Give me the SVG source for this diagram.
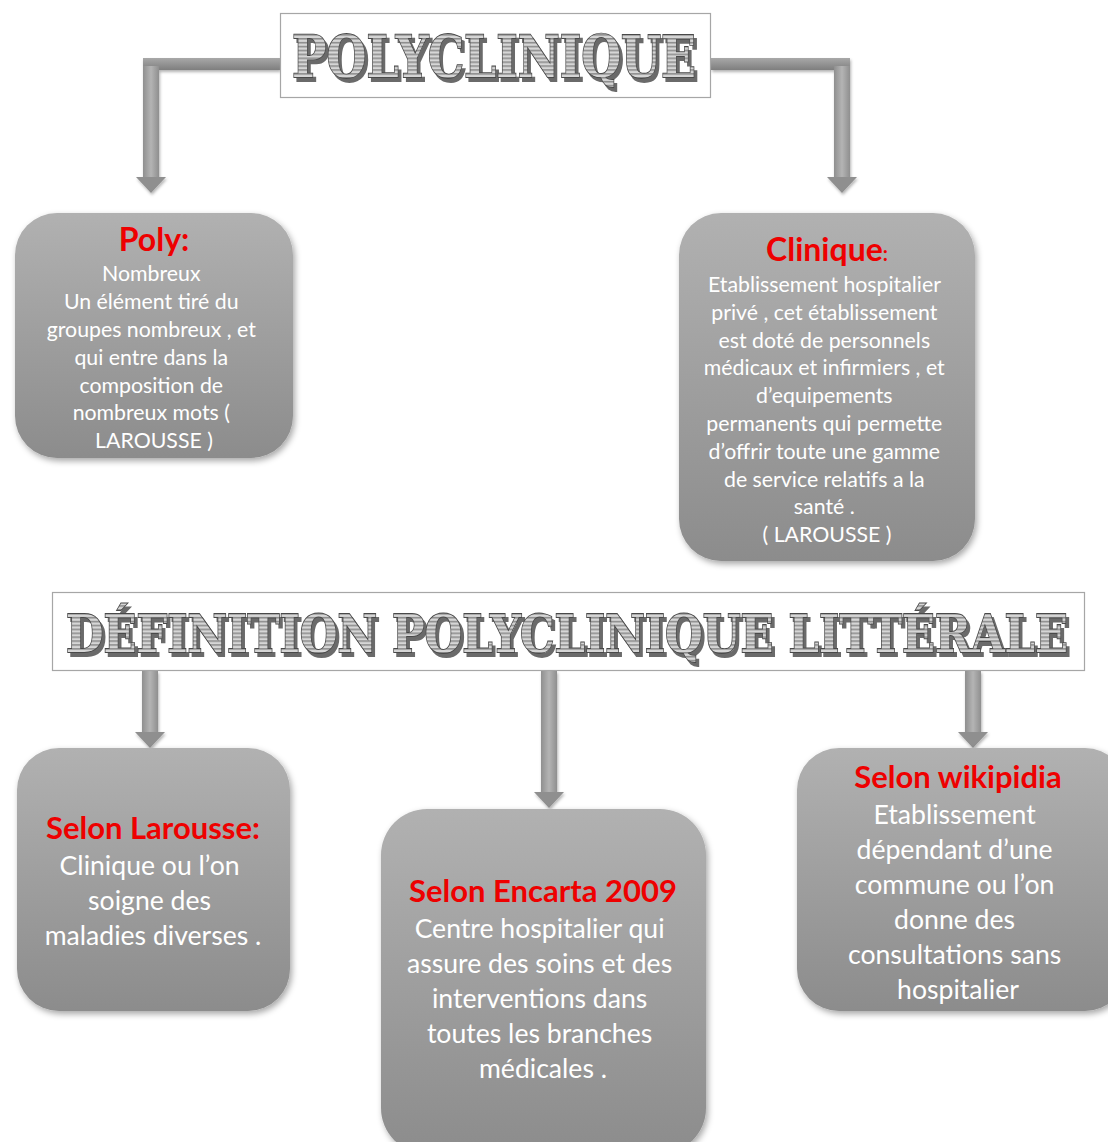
<svg xmlns="http://www.w3.org/2000/svg" width="1108" height="1142" viewBox="0 0 1108 1142">
  <defs>
    <linearGradient id="boxFill" x1="0" y1="0" x2="0" y2="1">
      <stop offset="0" stop-color="#b1b1b1"/>
      <stop offset="1" stop-color="#8c8c8c"/>
    </linearGradient>
    <linearGradient id="barV" x1="0" y1="0" x2="1" y2="0">
      <stop offset="0" stop-color="#8f8f8f"/>
      <stop offset="0.5" stop-color="#b4b4b4"/>
      <stop offset="1" stop-color="#8f8f8f"/>
    </linearGradient>
    <linearGradient id="barH" x1="0" y1="0" x2="0" y2="1">
      <stop offset="0" stop-color="#a8a8a8"/>
      <stop offset="1" stop-color="#7e7e7e"/>
    </linearGradient>
    <pattern id="stripes" width="4" height="3" patternUnits="userSpaceOnUse">
      <rect width="4" height="3" fill="#d6d6d6"/>
      <rect width="4" height="1.2" fill="#8c8c8c"/>
    </pattern>
    <filter id="shadow" x="-10%" y="-10%" width="125%" height="125%">
      <feDropShadow dx="2" dy="3" stdDeviation="3" flood-color="#000" flood-opacity="0.35"/>
    </filter>
    <filter id="soft" x="-20%" y="-20%" width="140%" height="140%">
      <feDropShadow dx="1" dy="2" stdDeviation="1.5" flood-color="#000" flood-opacity="0.3"/>
    </filter>
    <!-- hard offset shadow for the word-art titles -->
    <filter id="artDepth" x="-2%" y="-10%" width="104%" height="130%">
      <feOffset in="SourceAlpha" dx="3" dy="3" result="off"/>
      <feFlood flood-color="#6a6a6a"/>
      <feComposite in2="off" operator="in" result="depth"/>
      <feMerge>
        <feMergeNode in="depth"/>
        <feMergeNode in="SourceGraphic"/>
      </feMerge>
    </filter>
  </defs>
  <style>
    .box { fill: url(#boxFill); filter: url(#shadow); }
    .banner { fill: #ffffff; stroke: #a6a6a6; stroke-width: 1.2; }
    .art { font-family: "DejaVu Serif", "Liberation Serif", serif; font-weight: bold; fill: url(#stripes); stroke: #4a4a4a; stroke-width: 1.4; paint-order: stroke; filter: url(#artDepth); }
    .head { font-family: "Lato", "Open Sans", sans-serif; font-weight: bold; fill: #ee0000; text-anchor: middle; }
    .body { font-family: "Lato", "Open Sans", sans-serif; fill: #ffffff; text-anchor: middle; }
    .small { font-size: 21.3px; }
    .big { font-size: 26.6px; }
  </style>

  <rect width="1108" height="1142" fill="#ffffff"/>

  <!-- connectors -->
  <g id="connectors" filter="url(#soft)">
    <!-- left branch from the top banner -->
    <rect x="143" y="58" width="137" height="12" fill="url(#barH)"/>
    <rect x="143" y="66" width="16" height="112" fill="url(#barV)"/>
    <path d="M136 177 L166 177 L151 193 Z" fill="#8f8f8f"/>
    <!-- right branch from the top banner -->
    <rect x="711" y="58" width="139" height="12" fill="url(#barH)"/>
    <rect x="834" y="66" width="16" height="112" fill="url(#barV)"/>
    <path d="M827 177 L857 177 L842 193 Z" fill="#8f8f8f"/>
    <!-- three arrows under the second banner -->
    <rect x="142" y="671" width="16" height="62" fill="url(#barV)"/>
    <path d="M135 732 L165 732 L150 748 Z" fill="#8f8f8f"/>
    <rect x="541" y="671" width="16" height="122" fill="url(#barV)"/>
    <path d="M534 792 L564 792 L549 808 Z" fill="#8f8f8f"/>
    <rect x="965" y="671" width="16" height="62" fill="url(#barV)"/>
    <path d="M958 732 L988 732 L973 748 Z" fill="#8f8f8f"/>
  </g>

  <!-- top banner -->
  <g id="title-polyclinique">
    <rect class="banner" x="280.5" y="13.5" width="430" height="84"/>
    <g transform="translate(0 77) scale(1 1.3)">
      <text class="art" x="292" y="0" font-size="45" textLength="404" lengthAdjust="spacingAndGlyphs">POLYCLINIQUE</text>
    </g>
  </g>

  <!-- Poly -->
  <g id="node-poly">
    <rect class="box" x="15" y="213" width="278" height="245" rx="42"/>
    <text class="head" x="154" y="251" font-size="32">Poly:</text>
    <text class="body small">
      <tspan x="154" y="281">Nombreux</tspan>
      <tspan x="154" y="309">Un élément tiré du</tspan>
      <tspan x="154" y="337">groupes nombreux , et</tspan>
      <tspan x="154" y="365">qui entre dans la</tspan>
      <tspan x="154" y="393">composition de</tspan>
      <tspan x="154" y="420">nombreux mots (</tspan>
      <tspan x="154" y="448">LAROUSSE )</tspan>
    </text>
  </g>

  <!-- Clinique -->
  <g id="node-clinique">
    <rect class="box" x="679" y="213" width="296" height="348" rx="42"/>
    <text class="head" x="827" y="261" font-size="32">Clinique<tspan font-size="20">:</tspan></text>
    <text class="body small">
      <tspan x="827" y="292">Etablissement hospitalier</tspan>
      <tspan x="827" y="320">privé , cet établissement</tspan>
      <tspan x="827" y="348">est doté de personnels</tspan>
      <tspan x="827" y="375">médicaux et infirmiers , et</tspan>
      <tspan x="827" y="403">d’equipements</tspan>
      <tspan x="827" y="431">permanents qui permette</tspan>
      <tspan x="827" y="459">d’offrir toute une gamme</tspan>
      <tspan x="827" y="487">de service relatifs a la</tspan>
      <tspan x="827" y="514">santé  .</tspan>
      <tspan x="827" y="542">( LAROUSSE )</tspan>
    </text>
  </g>

  <!-- second banner -->
  <g id="title-definition">
    <rect class="banner" x="52.5" y="592.5" width="1032" height="78"/>
    <g transform="translate(0 652) scale(1 1.3)">
      <text class="art" x="66" y="0" font-size="40" textLength="1002" lengthAdjust="spacingAndGlyphs">DÉFINITION POLYCLINIQUE LITTÉRALE</text>
    </g>
  </g>

  <!-- Selon Larousse -->
  <g id="node-larousse">
    <rect class="box" x="17" y="748" width="273" height="263" rx="42"/>
    <text class="head" x="153" y="839" font-size="31">Selon Larousse:</text>
    <text class="body big">
      <tspan x="153" y="875">Clinique ou l’on</tspan>
      <tspan x="153" y="910">soigne des</tspan>
      <tspan x="153" y="945">maladies diverses .</tspan>
    </text>
  </g>

  <!-- Selon Encarta 2009 -->
  <g id="node-encarta">
    <rect class="box" x="381" y="809" width="325" height="345" rx="46"/>
    <text class="head" x="543" y="902" font-size="31">Selon Encarta 2009</text>
    <text class="body big">
      <tspan x="543" y="938">Centre hospitalier qui</tspan>
      <tspan x="543" y="973">assure des soins et des</tspan>
      <tspan x="543" y="1008">interventions dans</tspan>
      <tspan x="543" y="1043">toutes les branches</tspan>
      <tspan x="543" y="1078">médicales .</tspan>
    </text>
  </g>

  <!-- Selon wikipidia -->
  <g id="node-wikipidia">
    <rect class="box" x="797" y="748" width="330" height="263" rx="42"/>
    <text class="head" x="958" y="788" font-size="31">Selon wikipidia</text>
    <text class="body big">
      <tspan x="958" y="824">Etablissement</tspan>
      <tspan x="958" y="859">dépendant d’une</tspan>
      <tspan x="958" y="894">commune ou l’on</tspan>
      <tspan x="958" y="929">donne des</tspan>
      <tspan x="958" y="964">consultations sans</tspan>
      <tspan x="958" y="999">hospitalier</tspan>
    </text>
  </g>
</svg>
